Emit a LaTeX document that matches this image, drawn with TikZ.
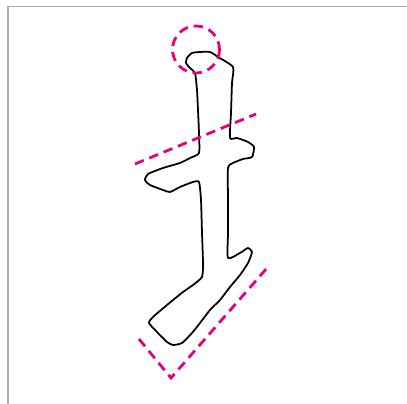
\documentclass[tikz,border=0pt]{standalone}
\usepackage{tikz}
\definecolor{mark}{HTML}{E6007E}
\definecolor{frame}{HTML}{ABABAB}

\begin{document}
\begin{tikzpicture}[
      x=0.02cm, y=-0.02cm,
      stroke/.style={draw=black, line width=1pt, line join=round},
      guide/.style={draw=mark, line width=1.6pt, dash pattern=on 5.4pt off 3.4pt},
      border/.style={draw=frame, line width=0.8pt},
    ]
    \useasboundingbox (0,0) rectangle (407,404);
    \draw[border] (8,404) -- (8,6.5) -- (407,6.5);

    % outline of the stroke
    \draw[stroke] plot[smooth cycle, tension=0.35] coordinates {
      (187,58) (192,53) (200,52) (210,52) (218,57) (233,67)
      (232,83) (231,113) (230,138)
      (237,138) (248,142) (254,147) (252,157) (243,159) (233,163) (228,168)
      (228,200) (228,233) (228,258)
      (240,253) (248,248) (252,252) (248,263) (240,275)
      (230,287) (220,300) (210,310) (200,323) (192,333) (182,343)
      (173,345) (167,342) (157,332) (149,323) (153,317)
      (167,305) (183,292) (193,285) (202,277) (203,263)
      (202,233) (201,200) (199,182)
      (193,182) (180,187) (170,192) (163,190) (150,185) (145,180) (148,174)
      (163,168) (180,163) (190,158) (199,153)
      (199,133) (198,110) (197,90) (195,73) (190,68) (186,63)};

    % guides
    \draw[guide] (196,49.5) circle (23.5);
    \coordinate (cutA) at (135,164);
    \coordinate (cutB) at (256,114);
    \draw[guide] (cutA) -- (cutB);
    \coordinate (footA) at (139,339);
    \coordinate (footB) at (171,378);
    \coordinate (footC) at (267,268);
    \draw[guide] (footA) -- (footB) -- (footC);
  \end{tikzpicture}
\end{document}
